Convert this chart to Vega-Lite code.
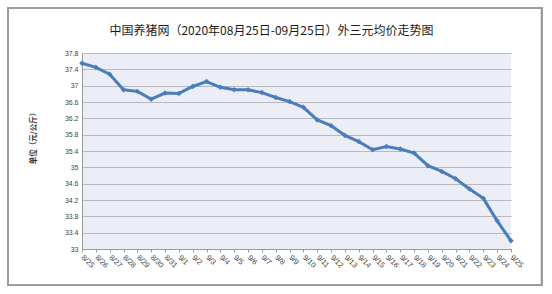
{
  "$schema": "https://vega.github.io/schema/vega-lite/v6.json",
  "width": 429,
  "height": 196,
  "autosize": {"type": "none"},
  "padding": {"left": 82, "top": 53, "right": 41, "bottom": 45},
  "background": "#ffffff",
  "title": {
    "text": "中国养猪网（2020年08月25日-09月25日）外三元均价走势图",
    "font": "Noto Sans CJK SC",
    "fontSize": 12,
    "fontWeight": "normal",
    "color": "#1a1a1a",
    "anchor": "middle",
    "dx": -25,
    "offset": -43,
    "baseline": "bottom"
  },
  "config": {
    "view": {"fill": "#eceef7", "stroke": null},
    "axis": {"labelFont": "Liberation Sans", "labelColor": "#444444", "labelFontSize": 7}
  },
  "data": {
    "values": [
      {"date": "2020-08-25", "price": 37.55},
      {"date": "2020-08-26", "price": 37.45},
      {"date": "2020-08-27", "price": 37.28},
      {"date": "2020-08-28", "price": 36.90},
      {"date": "2020-08-29", "price": 36.86},
      {"date": "2020-08-30", "price": 36.67},
      {"date": "2020-08-31", "price": 36.82},
      {"date": "2020-09-01", "price": 36.81},
      {"date": "2020-09-02", "price": 36.98},
      {"date": "2020-09-03", "price": 37.10},
      {"date": "2020-09-04", "price": 36.96},
      {"date": "2020-09-05", "price": 36.90},
      {"date": "2020-09-06", "price": 36.90},
      {"date": "2020-09-07", "price": 36.83},
      {"date": "2020-09-08", "price": 36.71},
      {"date": "2020-09-09", "price": 36.61},
      {"date": "2020-09-10", "price": 36.47},
      {"date": "2020-09-11", "price": 36.16},
      {"date": "2020-09-12", "price": 36.02},
      {"date": "2020-09-13", "price": 35.78},
      {"date": "2020-09-14", "price": 35.63},
      {"date": "2020-09-15", "price": 35.43},
      {"date": "2020-09-16", "price": 35.51},
      {"date": "2020-09-17", "price": 35.45},
      {"date": "2020-09-18", "price": 35.35},
      {"date": "2020-09-19", "price": 35.04},
      {"date": "2020-09-20", "price": 34.90},
      {"date": "2020-09-21", "price": 34.72},
      {"date": "2020-09-22", "price": 34.47},
      {"date": "2020-09-23", "price": 34.24},
      {"date": "2020-09-24", "price": 33.69},
      {"date": "2020-09-25", "price": 33.20}
    ]
  },
  "layer": [
    {
      "mark": {"type": "line", "color": "#4a7ebb", "strokeWidth": 3,
        "point": {"shape": "diamond", "size": 30, "filled": true, "color": "#4a7ebb"}},
      "encoding": {
        "x": {
          "field": "date",
          "type": "temporal",
          "scale": {"type": "utc", "domain": ["2020-08-25", "2020-09-25"]},
          "axis": {
            "title": null,
            "format": "%-m/%-d",
            "tickCount": {"interval": "day", "step": 1},
            "labelAngle": 45,
            "labelAlign": "left",
            "labelBaseline": "middle",
            "labelPadding": 4,
            "labelFontSize": 7.5,
            "labelOverlap": false,
            "grid": false,
            "domainColor": "#9a9a9a",
            "tickColor": "#9a9a9a",
            "tickSize": 3
          }
        },
        "y": {
          "field": "price",
          "type": "quantitative",
          "scale": {"domain": [33, 37.8], "nice": false, "zero": false},
          "axis": {
            "title": "单位（元/公斤）",
            "titleFont": "Noto Sans CJK SC",
            "titleFontSize": 7.5,
            "titleFontWeight": "bold",
            "titleColor": "#333333",
            "titleX": -45,
            "titleY": 83,
            "values": [33, 33.4, 33.8, 34.2, 34.6, 35, 35.4, 35.8, 36.2, 36.6, 37, 37.4, 37.8],
            "format": ".1~f",
            "ticks": false,
            "labelPadding": 4,
            "grid": true,
            "gridColor": "#b8b8be",
            "gridWidth": 1,
            "domainColor": "#9a9a9a"
          }
        }
      }
    },
    {
      "mark": {"type": "rect", "fill": null, "stroke": "#9c9c9c", "strokeWidth": 2, "clip": false},
      "encoding": {
        "x": {
          "datum": {"year": 2020, "month": 8, "date": 19, "hours": 15, "minutes": 40, "utc": true},
          "type": "temporal",
          "scale": {"type": "utc", "domain": ["2020-08-25", "2020-09-25"]},
          "axis": {
            "title": null,
            "format": "%-m/%-d",
            "tickCount": {"interval": "day", "step": 1},
            "labelAngle": 45,
            "labelAlign": "left",
            "labelBaseline": "middle",
            "labelPadding": 4,
            "labelFontSize": 7.5,
            "labelOverlap": false,
            "grid": false,
            "domainColor": "#9a9a9a",
            "tickColor": "#9a9a9a",
            "tickSize": 3
          }
        },
        "x2": {"datum": {"year": 2020, "month": 9, "date": 27, "hours": 5, "minutes": 45, "utc": true}},
        "y": {
          "datum": 38.9,
          "type": "quantitative",
          "scale": {"domain": [33, 37.8], "nice": false, "zero": false},
          "axis": {
            "title": "单位（元/公斤）",
            "titleFont": "Noto Sans CJK SC",
            "titleFontSize": 7.5,
            "titleFontWeight": "bold",
            "titleColor": "#333333",
            "titleX": -45,
            "titleY": 83,
            "values": [33, 33.4, 33.8, 34.2, 34.6, 35, 35.4, 35.8, 36.2, 36.6, 37, 37.4, 37.8],
            "format": ".1~f",
            "ticks": false,
            "labelPadding": 4,
            "grid": true,
            "gridColor": "#b8b8be",
            "gridWidth": 1,
            "domainColor": "#9a9a9a"
          }
        },
        "y2": {"datum": 32.12}
      }
    }
  ]
}
